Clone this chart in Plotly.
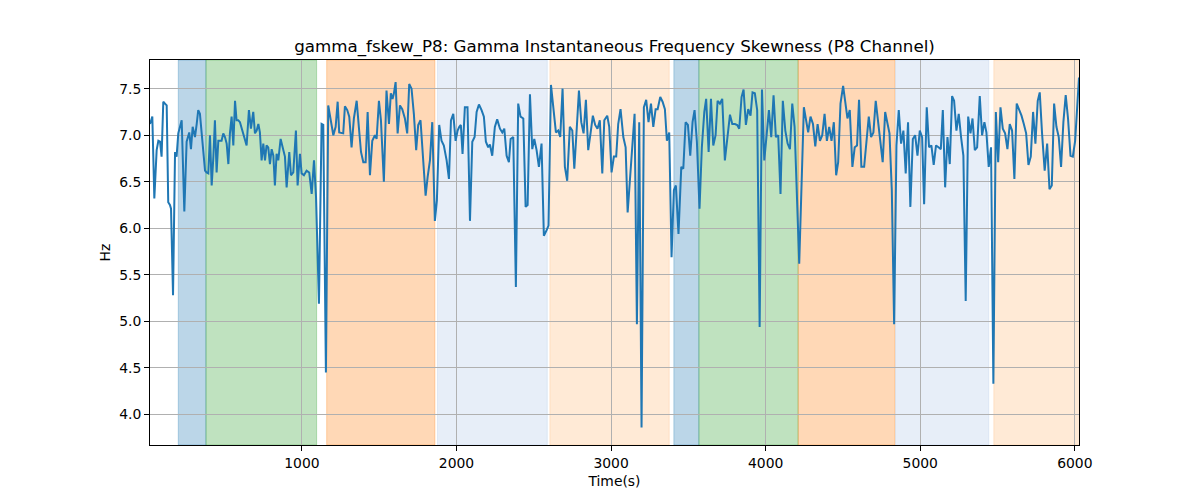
import plotly.graph_objects as go

# ---- data ----
time_s = [17, 32, 45, 60, 71, 82, 92, 103, 114, 125, 135, 146, 153, 166, 179, 189, 200, 211, 222, 239,
          254, 271, 282, 293, 308, 319, 329, 340, 351, 362, 373, 383, 394, 405, 416, 427, 437, 448, 459, 470,
          480, 491, 502, 513, 524, 534, 545, 556, 567, 577, 588, 599, 610, 631, 642, 657, 670, 685, 696, 707,
          718, 728,
          739, 750, 761, 771, 782, 793, 804, 815, 825, 836, 847, 862, 875, 890, 901, 918, 929, 944, 961, 972,
          987, 998, 1013, 1030, 1047, 1063, 1078, 1091, 1110, 1127, 1138, 1155, 1170, 1185, 1203, 1218, 1231,
          1241, 1256, 1267, 1278, 1293, 1306, 1321, 1336, 1354, 1369, 1382, 1397, 1412, 1425, 1440, 1455, 1472,
          1483, 1498, 1511, 1530, 1547, 1563, 1575, 1586, 1595, 1606, 1619, 1634, 1649, 1666, 1681, 1694, 1709,
          1724, 1739, 1752, 1767, 1785, 1800, 1813, 1828, 1843, 1860, 1873, 1888, 1903, 1918, 1936, 1951, 1964,
          1979, 1994, 2007, 2018, 2028, 2039, 2054, 2071, 2087, 2102, 2117, 2130, 2145, 2162, 2177, 2190, 2205,
          2216, 2231,
          2248, 2263, 2281, 2296, 2309, 2324, 2339, 2350, 2367, 2384, 2399, 2414, 2432, 2447, 2460, 2475, 2490,
          2503, 2518, 2533, 2550, 2565, 2583, 2595, 2611, 2626, 2643, 2658, 2671, 2686, 2701, 2716, 2733, 2749,
          2762, 2777, 2792, 2807, 2822, 2837, 2852, 2867, 2882, 2897, 2912, 2927, 2943, 2956,
          2975, 2988, 3003, 3018, 3033, 3046, 3061, 3079, 3094, 3107, 3122, 3137, 3152, 3167, 3182, 3197, 3212,
          3227, 3242, 3258, 3273, 3288, 3301, 3318, 3333, 3348, 3361, 3376, 3391, 3406, 3419, 3436, 3454, 3467,
          3482, 3497, 3512, 3527, 3540, 3555, 3572, 3587, 3603, 3615, 3631, 3646, 3661, 3676, 3689, 3704, 3719,
          3736, 3751, 3769, 3784, 3801, 3816, 3829, 3844, 3857, 3872, 3887, 3902, 3915, 3930, 3945, 3961, 3976,
          3991, 4006, 4021, 4036, 4051, 4066, 4081, 4096, 4111, 4127, 4142, 4157, 4172, 4187, 4217, 4247, 4260,
          4275, 4290, 4306, 4321, 4336, 4351, 4366, 4381, 4396, 4411, 4426, 4441, 4456,
          4469, 4484, 4501, 4516, 4529, 4544, 4561, 4576, 4591, 4604, 4619, 4637, 4652, 4667, 4682, 4697, 4712,
          4727, 4742, 4757, 4773, 4788, 4801, 4816, 4831, 4846, 4861, 4876, 4891, 4906, 4921, 4936, 4952, 4967,
          4982, 4997, 5012, 5025, 5042, 5057, 5072, 5087, 5102, 5118, 5133, 5146, 5161, 5176, 5191, 5206,
          5219, 5234, 5249, 5264, 5279, 5294, 5310, 5325, 5338, 5353, 5368, 5385, 5400, 5415, 5428, 5443, 5458,
          5473, 5489, 5504, 5519, 5534, 5549, 5564, 5579, 5594, 5609, 5624, 5639, 5655, 5670, 5685, 5700, 5715,
          5730, 5745, 5760, 5773, 5788, 5805, 5821, 5836, 5851, 5866, 5881, 5896, 5911, 5926, 5941, 5956, 5972,
          5987, 6002, 6017, 6027]

skew_hz = [7.12, 7.20, 6.32, 6.84, 6.94, 6.93, 6.77, 7.36, 7.34, 7.32, 6.28, 6.25, 6.21, 5.28, 6.82, 6.77, 7.02, 7.11, 7.16, 6.18,
           6.93, 7.03, 6.85, 7.09, 6.98, 7.12, 7.27, 7.23, 7.02, 6.84, 6.62, 6.60, 6.59, 7.00, 6.46, 6.77, 7.16, 6.60, 6.94, 6.94,
           6.94, 7.02, 6.98, 6.91, 6.69, 7.02, 7.20, 6.89, 7.37, 7.16, 7.16, 7.14, 7.07, 6.96, 6.89, 7.27, 7.07, 7.25, 7.02, 7.05,
           7.12, 7.03,
           6.73, 6.91, 6.73, 6.89, 6.87, 6.69, 6.85, 6.78, 6.46, 6.80, 6.73, 6.96, 6.87, 6.77, 6.44, 6.82, 6.57, 6.60, 7.05, 6.46,
           6.80, 6.59, 6.57, 6.62, 6.60, 6.37, 6.73, 6.34, 5.19, 7.12, 7.11, 4.45, 7.32, 7.16, 7.00, 7.09, 7.36,
           7.03, 7.02, 7.02, 7.31, 7.27, 7.20, 6.87, 7.18, 7.37, 7.07, 6.82, 6.71, 6.71, 7.25, 6.57, 6.94, 7.00,
           6.96, 7.37, 7.16, 6.50, 7.48, 7.12, 7.45, 7.39, 7.45, 7.57, 7.02, 7.32, 7.28, 7.18, 7.02, 7.55, 7.50,
           7.23, 6.84, 7.11, 7.16, 6.73, 6.35, 6.55, 6.73, 7.14, 6.08, 6.30, 7.11, 6.94, 6.89, 6.73, 6.53, 7.16,
           7.23, 6.94, 7.05, 7.09, 7.11, 6.80, 7.30, 7.30, 6.08, 6.93, 6.98, 7.25, 7.33, 7.27, 7.20, 6.93, 6.87,
           6.90, 6.78,
           7.09, 7.17, 7.07, 7.03, 7.07, 6.78, 6.71, 6.96, 6.98, 5.37, 7.34, 7.20, 7.18, 6.23, 6.25, 7.44, 6.85,
           6.96, 6.84, 6.66, 6.91, 5.92, 5.98, 6.03, 7.54, 7.30, 7.03, 7.05, 6.98, 7.50, 6.66, 6.51, 7.09, 7.05,
           6.64, 7.05, 7.48, 7.14, 7.02, 7.38, 6.84, 7.02, 7.21, 7.11, 7.07, 7.16, 6.59, 7.16,
           7.21, 7.09, 6.60, 6.77, 6.77, 7.12, 7.28, 6.98, 6.87, 6.17, 6.55, 6.87, 7.23, 4.97, 7.14, 3.86, 7.30,
           7.38, 7.14, 7.34, 7.09, 7.28, 7.28, 7.41, 7.36, 7.28, 6.94, 7.03, 5.69, 6.41, 6.46, 5.94, 6.66, 6.64,
           7.14, 7.11, 6.78, 7.14, 7.27, 6.93, 6.21, 6.87, 7.25, 7.39, 6.82, 7.39, 6.89, 7.00, 7.37, 7.34, 7.39,
           6.73, 6.96, 7.22, 7.12, 7.12, 7.11, 7.07, 7.41, 7.49, 7.11, 7.28, 7.21, 7.46, 7.45, 7.27, 4.94, 7.49,
           6.73, 7.02, 7.27, 6.98, 7.43, 6.98, 7.00, 6.37, 7.37, 7.05, 6.91, 6.85, 7.34, 7.09, 5.62, 7.30, 7.18,
           7.03, 7.20, 7.12, 6.88, 7.12, 6.94, 7.00, 7.23, 6.94, 7.09, 6.94, 7.14, 6.57,
           6.71, 7.34, 7.53, 7.34, 7.18, 7.27, 6.66, 6.87, 6.89, 7.38, 6.66, 6.66, 6.93, 7.20, 6.98, 7.03, 7.37,
           7.16, 6.98, 6.71, 7.25, 7.14, 7.02, 6.41, 4.97, 6.89, 7.27, 6.91, 7.05, 6.59, 7.14, 6.23, 6.96, 7.00,
           6.78, 7.05, 6.98, 6.26, 7.30, 6.87, 6.89, 6.68, 6.89, 6.87, 6.85, 7.27, 6.44, 6.98, 6.69, 7.42,
           7.37, 7.05, 7.23, 6.98, 6.78, 5.22, 7.20, 7.02, 7.18, 6.84, 6.87, 7.42, 7.00, 7.14, 7.03, 6.66, 6.87,
           4.33, 7.25, 6.71, 7.30, 7.07, 7.02, 6.85, 7.12, 7.05, 6.53, 7.34, 7.28, 7.21, 7.12, 7.02, 6.68, 6.77,
           7.25, 6.91, 7.37, 7.46, 7.02, 6.62, 6.91, 6.42, 6.46, 7.34, 7.09, 6.98, 6.66, 7.14, 7.43, 7.18, 6.78,
           6.77, 6.94, 7.37, 7.62]

# shaded stage intervals (seconds)
span_start = [200, 379, 1160, 1877, 2604, 3406, 3568, 4210, 4840, 5476]
span_end = [379, 1095, 1860, 2587, 3376, 3568, 4210, 4836, 5443, 6035]
span_kind = ["blue", "green", "orange", "lightblue", "lightorange",
             "blue", "green", "orange", "lightblue", "lightorange"]

x_ticks = [1000, 2000, 3000, 4000, 5000, 6000]
y_ticks = [4.0, 4.5, 5.0, 5.5, 6.0, 6.5, 7.0, 7.5]

# ---- styles ----
kind_fill = {
    "blue": "rgba(31,119,180,0.3)",
    "green": "rgba(44,160,44,0.3)",
    "orange": "rgba(255,127,14,0.3)",
    "lightblue": "rgba(174,199,232,0.3)",
    "lightorange": "rgba(255,187,120,0.3)",
}

fig = go.Figure()
fig.add_trace(go.Scatter(x=time_s, y=skew_hz, mode="lines",
                         line=dict(color="#1f77b4", width=2), showlegend=False))

shapes = []
for s, e, k in zip(span_start, span_end, span_kind):
    shapes.append(dict(type="rect", xref="x", yref="paper", x0=s, x1=e, y0=0, y1=1,
                       fillcolor=kind_fill[k], line=dict(width=1, color=kind_fill[k]), layer="below"))

ymin, ymax = min(skew_hz), max(skew_hz)
pad = (ymax - ymin) * 0.05

axis_common = dict(showline=True, linecolor="black", linewidth=1, mirror=True,
                   ticks="outside", ticklen=5, tickwidth=1, tickcolor="black",
                   showgrid=True, gridcolor="#b0b0b0", gridwidth=1, zeroline=False,
                   tickfont=dict(family="DejaVu Sans", size=13.9, color="black"))

fig.update_layout(
    width=1200, height=500,
    margin=dict(l=142, r=129, t=52, b=63),
    plot_bgcolor="white", paper_bgcolor="white",
    shapes=shapes,
    title=dict(text="gamma_fskew_P8: Gamma Instantaneous Frequency Skewness (P8 Channel)",
               x=0.5, xref="paper", y=1 - 38 / 500, yref="container", yanchor="middle",
               font=dict(family="DejaVu Sans", size=16.7, color="black")),
    xaxis=dict(range=[time_s[0], time_s[-1]], tickvals=x_ticks,
               title=dict(text="Time(s)", standoff=6,
                          font=dict(family="DejaVu Sans", size=13.9, color="black")),
               **axis_common),
    yaxis=dict(range=[ymin - pad, ymax + pad], tickvals=y_ticks, tickformat=".1f",
               title=dict(text="Hz", standoff=5,
                          font=dict(family="DejaVu Sans", size=13.9, color="black")),
               **axis_common),
)

fig.write_html("out.html")
